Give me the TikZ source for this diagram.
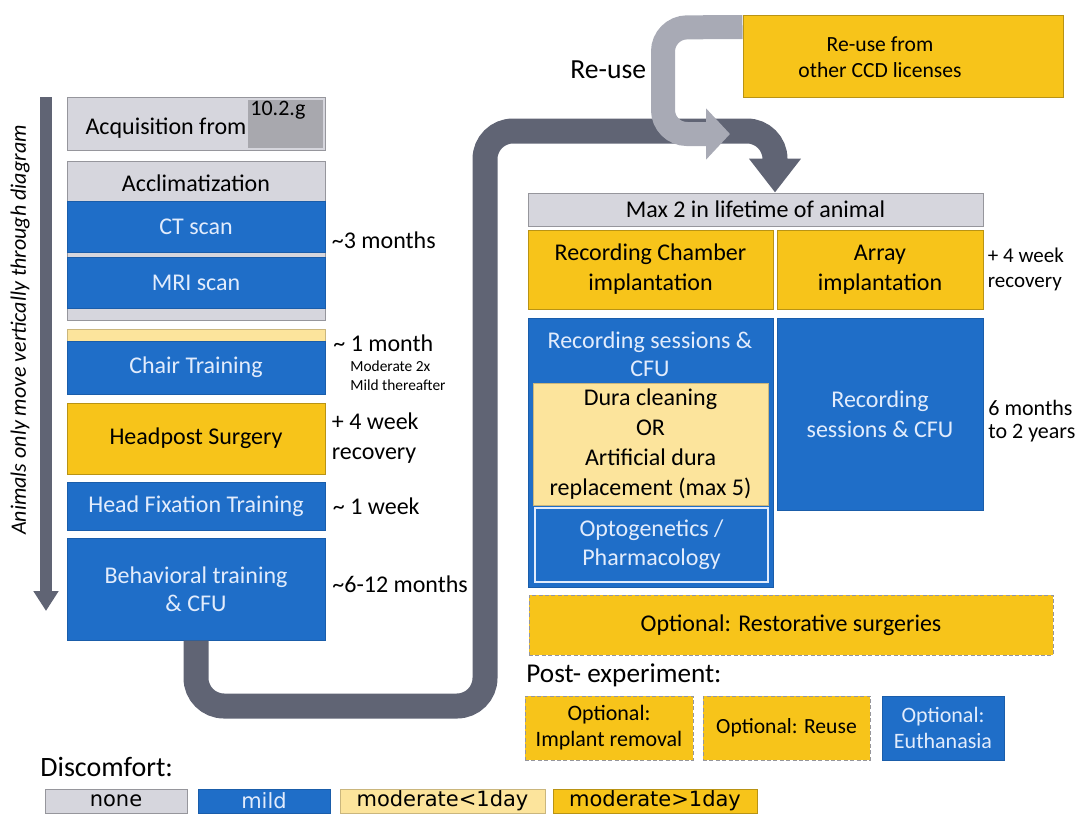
\documentclass[tikz,border=0pt]{standalone}
\usepackage{fontspec}
\setmainfont{Carlito}
\newfontfamily\legendfont{DejaVu Sans}
\usetikzlibrary{arrows.meta,positioning}

\definecolor{nonegray}{RGB}{214,214,221}
\definecolor{insetgray}{RGB}{168,168,174}
\definecolor{boxline}{RGB}{150,150,156}
\definecolor{mildblue}{RGB}{31,110,200}
\definecolor{bluetext}{RGB}{226,236,252}
\definecolor{lowyellow}{RGB}{252,228,156}
\definecolor{highyellow}{RGB}{247,196,26}
\definecolor{flowdark}{RGB}{96,100,116}
\definecolor{flowlight}{RGB}{168,170,181}

\begin{document}
\begin{tikzpicture}[x=0.5pt, y=-0.5pt,
    stage/.style={
      rectangle,
      inner sep=0pt,
      line width=0.5pt,
      align=center,
      font=\fontsize{12}{14}\selectfont
    },
    wh/.style 2 args={minimum width=#1*0.5pt, minimum height=#2*0.5pt},
    nonebox/.style={stage, fill=nonegray, draw=boxline},
    mildbox/.style={stage, fill=mildblue, draw=mildblue!85!black, text=bluetext},
    lowbox/.style={stage, fill=lowyellow, draw=lowyellow!80!black},
    highbox/.style={stage, fill=highyellow, draw=highyellow!75!black},
    optional/.style={draw=boxline, dash pattern=on 2pt off 1.2pt},
    legendbox/.style={font=\legendfont\fontsize{10.5}{12}\selectfont},
    note/.style={
      anchor=west,
      inner sep=0pt,
      align=left,
      font=\fontsize{12}{15}\selectfont
    },
    flow/.style={
      line width=12.5pt,
      draw=flowdark,
      rounded corners=14pt
    },
  ]

  \useasboundingbox (0,0) rectangle (1076,814);

  % left column
  \node[nonebox, wh={258}{53}] (acq) at (196,123.5) {};
  \node[fill=insetgray, inner sep=0pt, wh={75}{48}] (acqw) at (285.5,124) {};
  \node[inner sep=0pt, font=\fontsize{12}{14}\selectfont] (acqtext) at (166,128) {Acquisition from};
  \node[anchor=north west, inner sep=0pt, font=\fontsize{11}{12}\selectfont] (weight) at (250,101) {10.2.g};

  \node[nonebox, wh={258}{159}] (accl) at (196,240.5) {};
  \node[inner sep=0pt, font=\fontsize{12}{14}\selectfont] (accltext) at (196,183) {Acclimatization};
  \node[mildbox, wh={258}{51}] (ct) at (196,226.5) {CT scan};
  \node[mildbox, wh={258}{51}] (mri) at (196,282.5) {MRI scan};

  \node[lowbox, wh={258}{12}] (chairtop) at (196,335) {};
  \node[mildbox, wh={258}{53}] (chair) at (196,367.5) {Chair Training};
  \node[highbox, wh={258}{71}, text=black] (head) at (196,438.5) {Headpost Surgery};
  \node[mildbox, wh={258}{48}] (fix) at (196,506) {Head Fixation Training};
  \node[mildbox, wh={258}{102}] (beh) at (196,589) {Behavioral training\\\& CFU};

  \node[note, right=3pt of accl] (t3m) {\textasciitilde3 months};
  \node[note] (t1m) at (333,343) {\textasciitilde{} 1 month};
  \node[note, font=\fontsize{7.7}{9.5}\selectfont] (tmod) at (350,376) {Moderate 2x\\Mild thereafter};
  \node[note, right=3pt of head] (t4w) {+ 4 week\\recovery};
  \node[note, right=3.5pt of fix] (t1w) {\textasciitilde{} 1 week};
  \node[note] (t612) at (332,584) {\textasciitilde6-12 months};

  % direction arrow
  \coordinate (vtop) at (46,97);
  \coordinate (vbot) at (46,611);
  \draw[line width=6pt, draw=flowdark, -{Triangle[length=10pt, width=12pt]}] (vtop) -- (vbot);
  \node[rotate=90, inner sep=0pt, font=\itshape\fontsize{11}{12}\selectfont] (movetext) at (20,330)
    {Animals only move vertically through diagram};

  % right column
  \node[highbox, wh={320}{82}] (reuse) at (903,56) {};
  \node[inner sep=0pt, align=center, font=\fontsize{10.8}{13}\selectfont] (reusetext) at (880,57)
    {Re-use from\\other CCD licenses};
  \node[note, font=\fontsize{13.8}{15}\selectfont] (reuselbl) at (570,70) {Re-use};

  \node[nonebox, wh={455}{33}] (max2) at (755.5,209.5) {Max 2 in lifetime of animal};
  \node[highbox, wh={245}{79}, font=\fontsize{12}{15}\selectfont] (chamber) at (650.5,269.5)
    {Recording Chamber\\implantation};
  \node[highbox, wh={206}{79}, font=\fontsize{12}{15}\selectfont] (array) at (880,269.5)
    {Array\\implantation};
  \node[note, right=2pt of array, font=\fontsize{10.5}{12.5}\selectfont] (t4wb) {+ 4 week\\recovery};

  \node[mildbox, wh={245}{269}] (reccol) at (650.5,452.5) {};
  \node[inner sep=0pt, align=center, text=bluetext, font=\fontsize{12}{14}\selectfont] (rectext) at (650,354)
    {Recording sessions \&\\CFU};
  \node[lowbox, wh={235}{122}, font=\fontsize{12}{15}\selectfont] (dura) at (650.5,444)
    {Dura cleaning\\OR\\Artificial dura\\replacement (max 5)};
  \node[mildbox, wh={233}{74}, draw=bluetext, line width=0.8pt,
    font=\fontsize{12}{14.5}\selectfont] (opto) at (651.5,545) {Optogenetics /\\Pharmacology};
  \node[mildbox, wh={206}{192}, font=\fontsize{12}{15}\selectfont] (recright) at (880,414)
    {Recording\\sessions \& CFU};
  \node[note, font=\fontsize{11}{11.5}\selectfont] (t6m) at (988,421) {6 months\\to 2 years};

  \node[highbox, optional, wh={524}{60}] (restor) at (791,625) {Optional: Restorative surgeries};

  % post experiment
  \node[note, font=\fontsize{13.6}{15}\selectfont] (post) at (526,675) {Post- experiment:};
  \node[highbox, optional, wh={168}{64}, font=\fontsize{11}{13}\selectfont] (implant) at (609,728)
    {Optional:\\Implant removal};
  \node[highbox, optional, wh={167}{64}, font=\fontsize{10.8}{13}\selectfont] (reuse2) at (786.5,728)
    {Optional: Reuse};
  \node[mildbox, wh={122}{64}, font=\fontsize{11}{13}\selectfont] (euth) at (943,728)
    {Optional:\\Euthanasia};

  % legend
  \node[note, font=\fontsize{14}{15}\selectfont] (disc) at (40,767) {Discomfort:};
  \node[nonebox, legendbox, wh={142}{24}] (lnone) at (116,801) {none};
  \node[mildbox, legendbox, wh={132}{24}] (lmild) at (264,801) {mild};
  \node[lowbox, legendbox, wh={205}{24}] (llow) at (442.5,801) {moderate<1day};
  \node[highbox, legendbox, wh={204}{24}] (lhigh) at (655,801) {moderate>1day};

  % main flow
  \coordinate (loopbl) at (196,706);
  \coordinate (loopbr) at (485,706);
  \coordinate (looptl) at (485,131);
  \coordinate (looptr) at (775,131);
  \draw[flow, -{Triangle[length=17pt, width=25pt]}]
    (beh.south) -- (loopbl) -- (loopbr) -- (looptl) -- (looptr) -- (looptr |- max2.north);

  % re-use flow
  \coordinate (reusetl) at (663,27.5);
  \coordinate (reusebl) at (663,134);
  \coordinate (reusetip) at (730,134);
  \draw[flow, draw=flowlight, line width=12pt, rounded corners=12pt, -{Triangle[length=12pt, width=25pt]}]
    ([yshift=-6.25pt]reuse.north west) -- (reusetl) -- (reusebl) -- (reusetip);
\end{tikzpicture}
\end{document}
